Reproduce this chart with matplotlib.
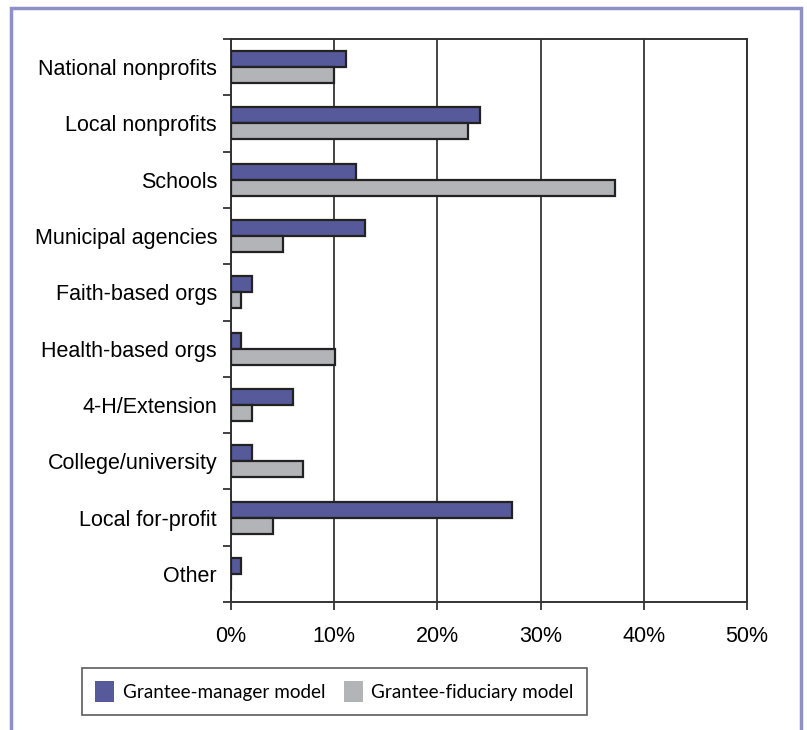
import numpy as np
import matplotlib.pyplot as plt
from matplotlib.patches import Rectangle, Patch

categories = ["National nonprofits", "Local nonprofits", "Schools", "Municipal agencies",
              "Faith-based orgs", "Health-based orgs", "4-H/Extension", "College/university",
              "Local for-profit", "Other"]
manager = [11.1, 24.1, 12.1, 13.0, 2.0, 1.0, 6.0, 2.0, 27.2, 1.0]
fiduciary = [10.0, 23.0, 37.2, 5.0, 1.0, 10.1, 2.0, 7.0, 4.1, 0.0]
xticks = [0, 10, 20, 30, 40, 50]

blue = "#565a9b"
gray = "#b3b4b8"

plt.rcParams['font.family'] = ['Liberation Sans', 'DejaVu Sans']

fig = plt.figure(figsize=(8.07, 7.3), dpi=100)
ax = fig.add_axes([231/807, 1 - 602/730, 516/807, 563/730])

y = np.arange(len(categories))
h = 0.285
ax.barh(y - h/2, manager, height=h, color=blue, edgecolor="#222222", linewidth=1.6, zorder=3)
ax.barh(y + h/2, fiduciary, height=h, color=gray, edgecolor="#222222", linewidth=1.6, zorder=3)

ax.set_ylim(len(categories) - 0.5, -0.5)
ax.set_xlim(0, 50)
ax.set_yticks(y)
ax.set_yticklabels(categories, fontsize=15.5)
ax.set_yticks(np.arange(-0.5, len(categories), 1), minor=True)
ax.tick_params(axis='y', which='major', length=0, pad=10)
ax.tick_params(axis='y', which='minor', length=6, width=1.3, color="#333333", direction='out')
ax.set_xticks(xticks)
ax.set_xticklabels([f"{t}%" for t in xticks], fontsize=15.5)
ax.tick_params(axis='x', length=6, width=1.3, color="#333333", direction='out', pad=11)
ax.xaxis.grid(True, color="#444444", linewidth=1.4, zorder=0)
for s in ax.spines.values():
    s.set_color("#333333")
    s.set_linewidth(1.4)

handles = [Patch(facecolor=blue, edgecolor='none', label="Grantee-manager model"),
           Patch(facecolor=gray, edgecolor='none', label="Grantee-fiduciary model")]
leg = fig.legend(handles=handles, loc='upper left', bbox_to_anchor=(82/807, 1 - 668/730),
                 ncol=2, frameon=True, fancybox=False, edgecolor="#333333",
                 prop={'family': 'Lato', 'size': 13.6}, handlelength=1.0, handleheight=1.3,
                 columnspacing=1.0, handletextpad=0.45, borderpad=0.7, borderaxespad=0)
leg.get_frame().set_linewidth(1.2)

fig.patches.append(Rectangle((11/807, -0.05), 790/807, 1.05 - 8/730, transform=fig.transFigure,
                             fill=False, edgecolor="#8d91c6", linewidth=2.5))

fig.savefig("out.png", dpi=100)
